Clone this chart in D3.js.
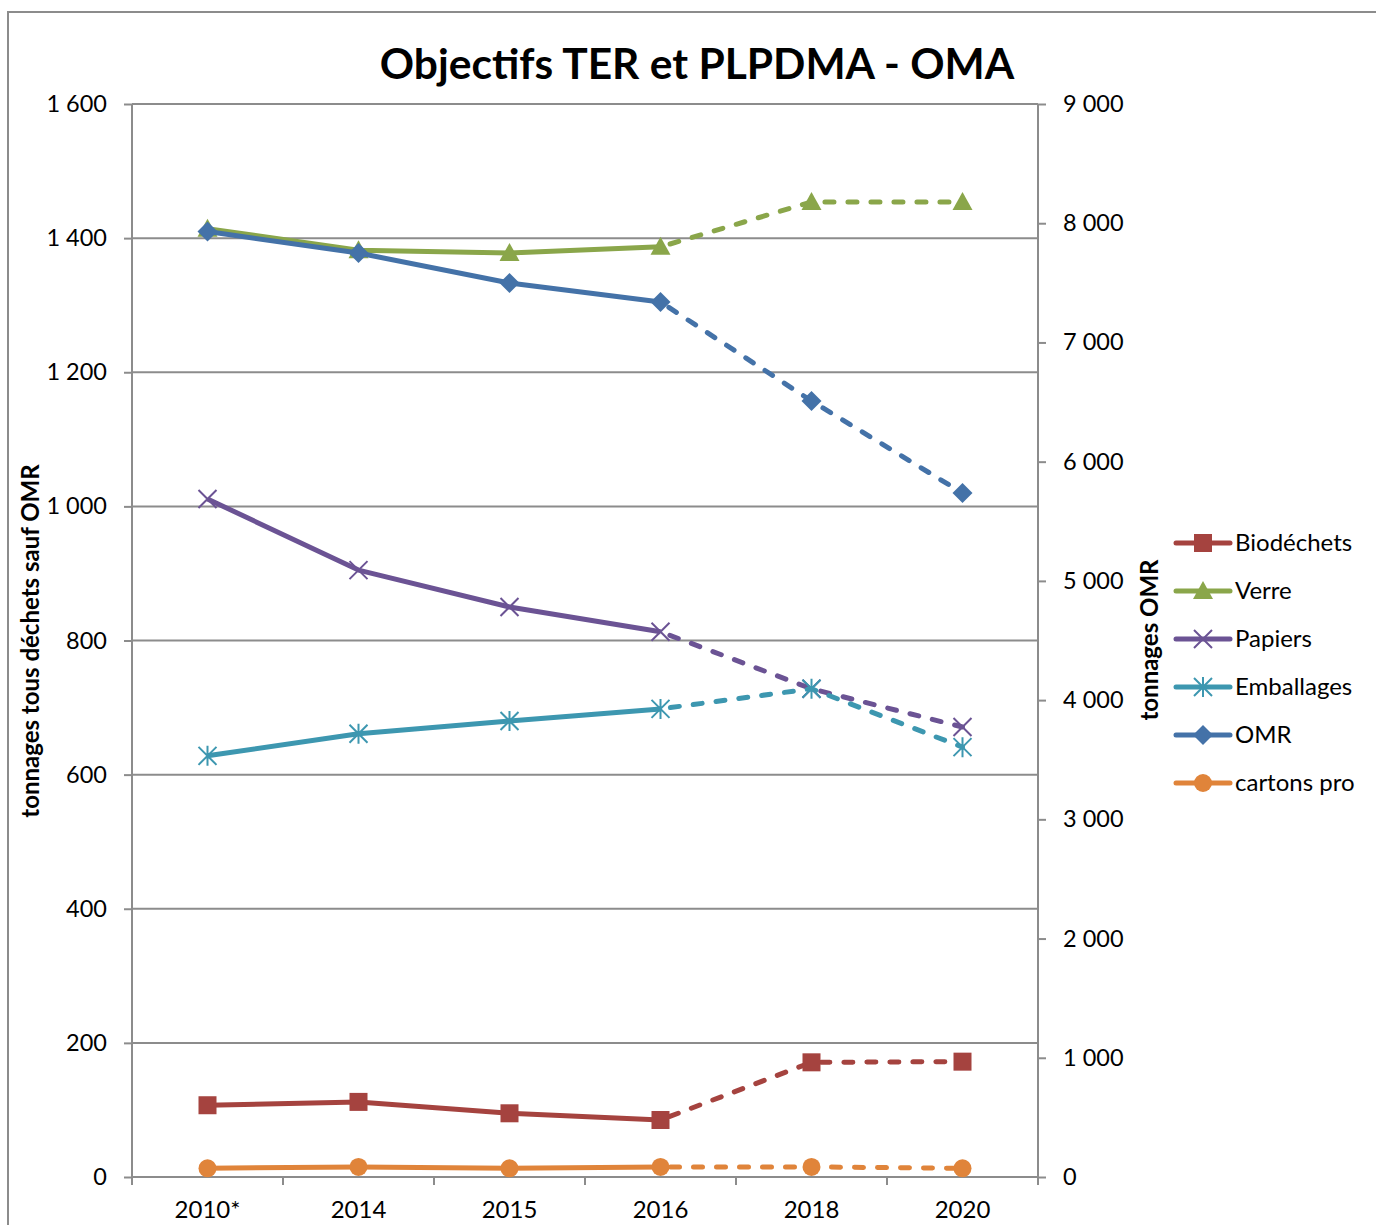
<!DOCTYPE html>
<html><head><meta charset="utf-8">
<script src="https://cdn.jsdelivr.net/npm/d3@7"></script>
<style>body{margin:0;background:#fff;font-family:Lato,"Noto Sans",sans-serif;}</style>
</head><body><div id="chart"></div>
<script>
const categories = ["2010*","2014","2015","2016","2018","2020"];
const biodechets = [107,112,95,85,171,172];
const verre = [1414,1382,1378,1387,1454,1454];
const papiers = [1011,905,850,813,728,671];
const emballages = [628,661,680,698,728,641];
const omr = [7930,7750,7499,7340,6509,5737];
const cartonsPro = [13,15,13,15,15,13];
const leftTicks = [0,200,400,600,800,1000,1200,1400,1600];
const rightTicks = [0,1000,2000,3000,4000,5000,6000,7000,8000,9000];
const dashFrom = 3; // index where projections (dashed) start

const series = [
  {name:"Biodéchets", values:biodechets, color:"#A5433F", marker:"square", axis:"left"},
  {name:"Verre", values:verre, color:"#8AA64A", marker:"triangle", axis:"left"},
  {name:"Papiers", values:papiers, color:"#6B5394", marker:"x", axis:"left"},
  {name:"Emballages", values:emballages, color:"#3D97B0", marker:"asterisk", axis:"left"},
  {name:"cartons pro", values:cartonsPro, color:"#E0843A", marker:"circle", axis:"left"},
  {name:"OMR", values:omr, color:"#4472A8", marker:"diamond", axis:"right"}
];
const legendOrder = ["Biodéchets","Verre","Papiers","Emballages","OMR","cartons pro"];

const W=1376,H=1225;
const m={left:132,right:1038,top:104,bottom:1177};
const svg=d3.select("#chart").append("svg").attr("width",W).attr("height",H);
svg.append("rect").attr("x",0).attr("y",0).attr("width",W).attr("height",H).attr("fill","#fff");
svg.append("path").attr("d",`M8,${H+5}V12H${W+5}`).attr("fill","none").attr("stroke","#8c8c8c").attr("stroke-width",2);

const x=d3.scaleBand().domain(categories).range([m.left,m.right]);
const xc=d=>x(d)+x.bandwidth()/2;
const yL=d3.scaleLinear().domain([0,1600]).range([m.bottom,m.top]);
const yR=d3.scaleLinear().domain([0,9000]).range([m.bottom,m.top]);
const fmt=v=>d3.format(",")(v).replace(/,/g," ");
const gray="#8c8c8c";

svg.append("g").selectAll("line").data(leftTicks).join("line")
 .attr("x1",m.left).attr("x2",m.right).attr("y1",d=>yL(d)).attr("y2",d=>yL(d))
 .attr("stroke",gray).attr("stroke-width",2);

const gl=svg.append("g").attr("transform",`translate(${m.left},0)`)
 .call(d3.axisLeft(yL).tickValues(leftTicks).tickFormat(fmt).tickSize(8).tickPadding(17));
const gr=svg.append("g").attr("transform",`translate(${m.right},0)`)
 .call(d3.axisRight(yR).tickValues(rightTicks).tickFormat(fmt).tickSize(8).tickPadding(17));
const gb=svg.append("g").attr("transform",`translate(0,${m.bottom})`)
 .call(d3.axisBottom(x).tickSize(0).tickPadding(24));
gb.append("g").selectAll("line").data(d3.range(categories.length+1)).join("line")
 .attr("x1",i=>m.left+i*x.step()).attr("x2",i=>m.left+i*x.step()).attr("y1",0).attr("y2",8)
 .attr("stroke",gray).attr("stroke-width",2);
[gl,gr,gb].forEach(g=>{
  g.select(".domain").attr("stroke",gray).attr("stroke-width",2);
  g.selectAll(".tick line").attr("stroke",gray).attr("stroke-width",2);
  g.selectAll("text").attr("font-family","Lato, 'Noto Sans', sans-serif").attr("font-size",23.5).attr("fill","#000");
});
gb.selectAll("text").attr("font-size",24);
gl.select(".domain").attr("d",`M0,${m.top}V${m.bottom+8}`);
gr.select(".domain").attr("d",`M0,${m.top}V${m.bottom+8}`);
gb.select(".domain").attr("d",`M${m.left},0H${m.right}`);

svg.append("text").attr("x",697).attr("y",79).attr("text-anchor","middle")
 .attr("font-size",42.5).attr("font-weight","bold").text("Objectifs TER et PLPDMA - OMA");
svg.append("text").attr("transform","translate(39,641) rotate(-90)").attr("text-anchor","middle")
 .attr("font-size",24).attr("font-weight","bold").text("tonnages tous déchets sauf OMR");
svg.append("text").attr("transform","translate(1158,640) rotate(-90)").attr("text-anchor","middle")
 .attr("font-size",24).attr("font-weight","bold").text("tonnages OMR");

function drawMarker(g,type,cx,cy,color){
  if(type==="square") g.append("rect").attr("x",cx-9).attr("y",cy-9).attr("width",18).attr("height",18).attr("fill",color);
  else if(type==="triangle") g.append("path").attr("d",`M${cx},${cy-10}L${cx+10},${cy+8}L${cx-10},${cy+8}Z`).attr("fill",color);
  else if(type==="diamond") g.append("path").attr("d",`M${cx},${cy-10}L${cx+10},${cy}L${cx},${cy+10}L${cx-10},${cy}Z`).attr("fill",color);
  else if(type==="circle") g.append("circle").attr("cx",cx).attr("cy",cy).attr("r",9).attr("fill",color);
  else if(type==="x") g.append("path").attr("d",`M${cx-9},${cy-9}L${cx+9},${cy+9}M${cx-9},${cy+9}L${cx+9},${cy-9}`).attr("stroke",color).attr("stroke-width",2);
  else if(type==="asterisk") g.append("path").attr("d",`M${cx-9},${cy-9}L${cx+9},${cy+9}M${cx-9},${cy+9}L${cx+9},${cy-9}M${cx},${cy-10}V${cy+10}`).attr("stroke",color).attr("stroke-width",2);
}

const plot=svg.append("g");
series.forEach(s=>{
  const yS=s.axis==="left"?yL:yR;
  const pts=s.values.map((v,i)=>[xc(categories[i]),yS(v)]);
  const line=d3.line();
  const g=plot.append("g");
  g.append("path").attr("d",line(pts.slice(0,dashFrom+1))).attr("fill","none")
   .attr("stroke",s.color).attr("stroke-width",5).attr("stroke-linejoin","round");
  g.append("path").attr("d",line(pts.slice(dashFrom))).attr("fill","none")
   .attr("stroke",s.color).attr("stroke-width",5).attr("stroke-linecap","round")
   .attr("stroke-dasharray","9,14").attr("stroke-dashoffset",-10);
  pts.forEach(p=>drawMarker(g,s.marker,p[0],p[1],s.color));
});

const lg=svg.append("g");
legendOrder.forEach((n,i)=>{
  const s=series.find(d=>d.name===n);
  const yy=543+i*48;
  lg.append("line").attr("x1",1176).attr("x2",1230).attr("y1",yy).attr("y2",yy)
   .attr("stroke",s.color).attr("stroke-width",5).attr("stroke-linecap","round");
  drawMarker(lg,s.marker,1203,yy,s.color);
  lg.append("text").attr("x",1235).attr("y",yy+8).attr("font-size",24).text(n);
});
</script></body></html>
